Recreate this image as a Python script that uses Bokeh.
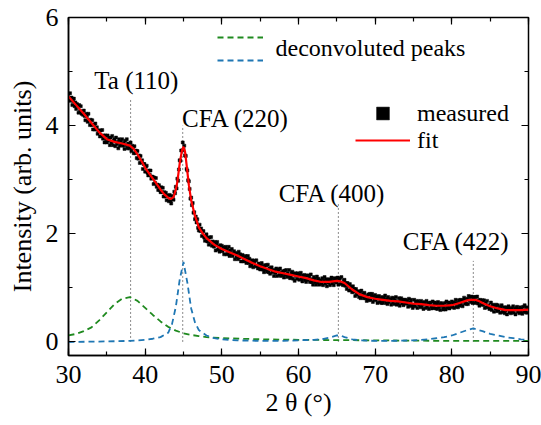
import numpy as np
from bokeh.plotting import figure
from bokeh.models import (Range1d, LinearAxis, SingleIntervalTicker, Legend,
                          LegendItem, Label, CustomLabelingPolicy)
from bokeh.embed import file_html
from bokeh.resources import INLINE

# ---------------- data ----------------
scan_start, scan_step = 30.0, 0.1   # 2-theta grid of the measurement
measured = [
    4.59, 4.46, 4.60, 4.47, 4.52, 4.38, 4.45, 4.50, 4.36, 4.43,
    4.31, 4.40, 4.37, 4.24, 4.38, 4.27, 4.36, 4.22, 4.26, 4.20,
    4.28, 4.18, 4.10, 4.22, 4.18, 4.07, 4.22, 4.09, 4.01, 4.11,
    4.01, 4.10, 3.93, 4.02, 3.93, 4.04, 3.93, 3.97, 3.85, 3.91,
    3.91, 3.80, 3.91, 3.81, 3.92, 3.76, 3.82, 3.69, 3.82, 3.75,
    3.69, 3.82, 3.72, 3.77, 3.64, 3.78, 3.68, 3.81, 3.64, 3.72,
    3.75, 3.62, 3.78, 3.66, 3.70, 3.58, 3.75, 3.63, 3.71, 3.65,
    3.75, 3.63, 3.68, 3.57, 3.72, 3.64, 3.75, 3.58, 3.67, 3.58,
    3.60, 3.69, 3.53, 3.63, 3.58, 3.49, 3.62, 3.49, 3.54, 3.40,
    3.53, 3.39, 3.45, 3.31, 3.44, 3.32, 3.36, 3.20, 3.29, 3.29,
    3.15, 3.24, 3.26, 3.13, 3.08, 3.17, 3.09, 3.17, 3.02, 3.06,
    3.05, 2.92, 3.04, 2.94, 3.03, 2.87, 2.91, 2.81, 2.90, 2.81,
    2.77, 2.86, 2.77, 2.85, 2.69, 2.77, 2.69, 2.76, 2.62, 2.70,
    2.71, 2.60, 2.72, 2.61, 2.56, 2.70, 2.68, 2.63, 2.78, 2.75,
    2.87, 2.84, 3.02, 2.98, 3.19, 3.36, 3.35, 3.54, 3.54, 3.69,
    3.56, 3.63, 3.45, 3.44, 3.20, 3.17, 2.99, 2.97, 2.83, 2.65,
    2.67, 2.53, 2.57, 2.39, 2.40, 2.27, 2.32, 2.21, 2.27, 2.11,
    2.06, 2.17, 2.05, 2.10, 1.96, 2.04, 2.05, 1.93, 1.87, 1.95,
    1.99, 1.86, 1.93, 1.80, 1.93, 1.85, 1.94, 1.78, 1.86, 1.78,
    1.76, 1.85, 1.69, 1.81, 1.85, 1.71, 1.77, 1.67, 1.79, 1.71,
    1.78, 1.68, 1.75, 1.62, 1.72, 1.76, 1.62, 1.71, 1.63, 1.76,
    1.59, 1.69, 1.63, 1.72, 1.59, 1.64, 1.68, 1.53, 1.64, 1.57,
    1.64, 1.53, 1.67, 1.56, 1.62, 1.49, 1.59, 1.61, 1.49, 1.55,
    1.50, 1.59, 1.46, 1.53, 1.59, 1.46, 1.54, 1.40, 1.48, 1.42,
    1.51, 1.38, 1.47, 1.50, 1.40, 1.51, 1.40, 1.36, 1.45, 1.40,
    1.34, 1.42, 1.46, 1.34, 1.39, 1.29, 1.42, 1.34, 1.42, 1.30,
    1.43, 1.29, 1.36, 1.26, 1.37, 1.38, 1.29, 1.32, 1.22, 1.33,
    1.28, 1.36, 1.22, 1.32, 1.34, 1.24, 1.36, 1.22, 1.29, 1.24,
    1.31, 1.19, 1.32, 1.25, 1.33, 1.20, 1.27, 1.22, 1.33, 1.18,
    1.19, 1.27, 1.30, 1.17, 1.25, 1.13, 1.27, 1.23, 1.17, 1.27,
    1.23, 1.15, 1.25, 1.28, 1.17, 1.12, 1.23, 1.18, 1.24, 1.14,
    1.11, 1.23, 1.15, 1.23, 1.19, 1.11, 1.25, 1.11, 1.16, 1.06,
    1.20, 1.11, 1.17, 1.06, 1.21, 1.10, 1.17, 1.06, 1.14, 1.12,
    1.07, 1.18, 1.05, 1.13, 1.20, 1.08, 1.16, 1.03, 1.15, 1.10,
    1.16, 1.05, 1.14, 1.19, 1.08, 1.13, 1.05, 1.18, 1.11, 1.17,
    1.10, 1.19, 1.06, 1.15, 1.18, 1.07, 1.20, 1.09, 1.05, 1.13,
    1.15, 1.04, 1.09, 0.98, 1.09, 1.04, 0.95, 1.07, 0.96, 1.02,
    0.92, 1.03, 0.93, 0.98, 0.85, 0.98, 0.88, 0.92, 0.94, 0.83,
    0.92, 0.81, 0.95, 0.85, 0.89, 0.81, 0.91, 0.81, 0.85, 0.76,
    0.81, 0.88, 0.77, 0.89, 0.78, 0.84, 0.89, 0.74, 0.84, 0.79,
    0.87, 0.77, 0.84, 0.72, 0.81, 0.85, 0.74, 0.80, 0.72, 0.83,
    0.72, 0.82, 0.77, 0.86, 0.72, 0.80, 0.70, 0.83, 0.74, 0.78,
    0.79, 0.69, 0.82, 0.73, 0.81, 0.70, 0.77, 0.83, 0.69, 0.74,
    0.71, 0.81, 0.67, 0.76, 0.81, 0.71, 0.78, 0.68, 0.78, 0.71,
    0.78, 0.71, 0.76, 0.65, 0.80, 0.67, 0.73, 0.78, 0.67, 0.63,
    0.68, 0.78, 0.66, 0.73, 0.75, 0.63, 0.76, 0.69, 0.73, 0.64,
    0.76, 0.66, 0.72, 0.61, 0.74, 0.70, 0.63, 0.76, 0.65, 0.72,
    0.61, 0.71, 0.73, 0.66, 0.62, 0.75, 0.63, 0.69, 0.73, 0.62,
    0.71, 0.61, 0.74, 0.64, 0.69, 0.59, 0.72, 0.66, 0.70, 0.60,
    0.65, 0.72, 0.60, 0.75, 0.63, 0.68, 0.73, 0.62, 0.71, 0.65,
    0.75, 0.65, 0.73, 0.63, 0.72, 0.78, 0.65, 0.72, 0.64, 0.77,
    0.67, 0.78, 0.71, 0.77, 0.66, 0.77, 0.82, 0.71, 0.78, 0.70,
    0.80, 0.70, 0.85, 0.77, 0.83, 0.74, 0.84, 0.72, 0.81, 0.83,
    0.72, 0.83, 0.74, 0.84, 0.71, 0.77, 0.67, 0.78, 0.74, 0.69,
    0.77, 0.69, 0.77, 0.63, 0.72, 0.64, 0.76, 0.65, 0.68, 0.61,
    0.62, 0.73, 0.59, 0.67, 0.69, 0.56, 0.67, 0.62, 0.69, 0.57,
    0.68, 0.59, 0.63, 0.54, 0.65, 0.68, 0.55, 0.58, 0.64, 0.53,
    0.58, 0.64, 0.51, 0.62, 0.66, 0.55, 0.61, 0.53, 0.63, 0.56,
    0.66, 0.54, 0.61, 0.51, 0.63, 0.65, 0.56, 0.60, 0.53, 0.64,
    0.55, 0.62, 0.52, 0.65, 0.57, 0.68, 0.55, 0.64, 0.54, 0.62,
    0.63,
]
two_theta = np.round(scan_start + scan_step * np.arange(len(measured)), 2)

fit_x = [30, 31, 32, 33, 34, 35, 36, 37, 38, 38.5, 39, 39.5, 40, 41, 42, 42.5,
         43, 43.3, 43.7, 44, 44.2, 44.5, 44.8, 45, 45.2, 45.4, 45.7, 46, 46.5,
         47, 47.5, 48, 49, 50, 51, 52, 53, 54, 55, 56, 57, 58, 59, 60, 61, 62,
         63, 64, 65, 65.5, 66, 66.5, 67, 68, 69, 70, 71, 72, 73, 74, 75, 76, 77,
         78, 79, 80, 81, 82, 82.5, 83, 83.5, 84, 85, 86, 87, 88, 89, 90]
fit_y = [4.54, 4.38, 4.22, 4.05, 3.88, 3.75, 3.70, 3.67, 3.63, 3.57, 3.47, 3.35,
         3.22, 3.02, 2.82, 2.73, 2.67, 2.64, 2.68, 2.82, 2.96, 3.30, 3.54, 3.61,
         3.52, 3.28, 2.90, 2.62, 2.33, 2.12, 2.01, 1.92, 1.80, 1.72, 1.66, 1.60,
         1.53, 1.46, 1.40, 1.35, 1.30, 1.27, 1.24, 1.21, 1.18, 1.14, 1.11, 1.11,
         1.13, 1.12, 1.09, 1.03, 0.97, 0.88, 0.83, 0.80, 0.78, 0.76, 0.75, 0.73,
         0.71, 0.70, 0.68, 0.67, 0.67, 0.68, 0.72, 0.77, 0.78, 0.78, 0.76, 0.72,
         0.66, 0.62, 0.59, 0.59, 0.59, 0.60]

ta_x = [30, 31, 32, 33, 34, 35, 36, 37, 38, 39, 40, 41, 42, 43, 44, 45, 46, 47,
        48, 50, 55, 60, 70, 80, 90]
ta_y = [0.12, 0.15, 0.20, 0.27, 0.40, 0.55, 0.70, 0.80, 0.83, 0.76, 0.63, 0.50,
        0.38, 0.28, 0.21, 0.16, 0.13, 0.11, 0.09, 0.07, 0.05, 0.04, 0.03, 0.02,
        0.02]

cfa_x = [30, 35, 38, 40, 41, 42, 43, 43.5, 44, 44.5, 45, 45.5, 46, 46.5, 47, 48,
         49, 50, 52, 55, 58, 60, 62, 63, 64, 65, 65.5, 66, 67, 68, 70, 72, 75, 77,
         78, 79, 80, 81, 82, 82.8, 84, 85, 86, 87, 88, 89, 90]
cfa_y = [0.00, 0.01, 0.02, 0.04, 0.06, 0.09, 0.17, 0.33, 0.65, 1.15, 1.48, 1.10,
         0.62, 0.36, 0.22, 0.12, 0.07, 0.05, 0.03, 0.02, 0.02, 0.03, 0.04, 0.05,
         0.08, 0.12, 0.12, 0.09, 0.05, 0.03, 0.02, 0.02, 0.03, 0.05, 0.07, 0.09,
         0.12, 0.17, 0.22, 0.25, 0.20, 0.15, 0.12, 0.09, 0.07, 0.05, 0.04]

peak_pos = [38.1, 44.9, 65.2, 82.8]
peak_line_top = [4.50, 4.00, 2.55, 1.50]
peak_names = ["Ta (110)", "CFA (220)", "CFA (400)", "CFA (422)"]
peak_label_x = [38.85, 51.8, 64.4, 80.6]
peak_label_y = [4.84, 4.14, 2.74, 1.85]

# ---------------- figure ----------------
FONT = "Liberation Serif"
p = figure(width=541, height=425, frame_width=460, frame_height=338,
           min_border_left=68, min_border_right=13, min_border_top=17,
           min_border_bottom=70, x_range=Range1d(30, 90),
           y_range=Range1d(-0.25, 6), output_backend="svg",
           toolbar_location=None, x_axis_label="2 θ (°)",
           y_axis_label="Intensity (arb. units)")
p.xgrid.visible = False
p.ygrid.visible = False
p.outline_line_color = "black"
p.outline_line_width = 1.5
p.background_fill_color = "white"
p.border_fill_color = "white"

xt = SingleIntervalTicker(interval=10, num_minor_ticks=2)
yt = SingleIntervalTicker(interval=2, num_minor_ticks=2)
p.xaxis.ticker = xt
p.yaxis.ticker = yt
for ax in (p.xaxis[0], p.yaxis[0]):
    ax.major_tick_in = 7
    ax.major_tick_out = 0
    ax.minor_tick_in = 4
    ax.minor_tick_out = 0
    ax.axis_line_width = 1.5
    ax.major_tick_line_width = 1.2
    ax.minor_tick_line_width = 1.2
    ax.major_label_text_font = FONT
    ax.major_label_text_font_size = "26px"
    ax.major_label_text_color = "black"
    ax.major_label_standoff = 10
    ax.axis_label_text_font = FONT
    ax.axis_label_text_font_size = "26px"
    ax.axis_label_text_font_style = "normal"
    ax.axis_label_text_color = "black"
p.xaxis.axis_label_standoff = 2
p.yaxis.axis_label_standoff = 6

# mirrored tick marks on top and right (no labels)
no_labels = CustomLabelingPolicy(code="""
    for (const i of indices) { indices.unset(i) }
    return indices
""")
top_ax = LinearAxis(ticker=SingleIntervalTicker(interval=10, num_minor_ticks=2))
right_ax = LinearAxis(ticker=SingleIntervalTicker(interval=2, num_minor_ticks=2))
for ax in (top_ax, right_ax):
    ax.major_tick_in = 7
    ax.major_tick_out = 0
    ax.minor_tick_in = 4
    ax.minor_tick_out = 0
    ax.major_tick_line_width = 1.2
    ax.minor_tick_line_width = 1.2
    ax.axis_line_color = None
    ax.major_label_text_font_size = "0px"
    ax.major_label_standoff = 0
    ax.major_label_policy = no_labels
p.add_layout(top_ax, "above")
p.add_layout(right_ax, "right")

# vertical dotted peak markers
p.segment(x0=peak_pos, y0=[0] * len(peak_pos), x1=peak_pos, y1=peak_line_top,
          line_color="#8a8a8a", line_width=1, line_dash="2 2")

# deconvoluted peaks
r_ta = p.line(ta_x, ta_y, line_color="#1f8a1f", line_width=1.8, line_dash="6 4")
r_cfa = p.line(cfa_x, cfa_y, line_color="#1f77b4", line_width=1.8, line_dash="6 4")

# measured and fit
r_meas = p.scatter(two_theta, measured, marker="square", size=3,
                   fill_color="black", line_color="black", line_width=0.5)
r_fit = p.line(fit_x, fit_y, line_color="#ff0000", line_width=2.2)

# peak labels
for name, lx, ly in zip(peak_names, peak_label_x, peak_label_y):
    p.add_layout(Label(x=lx, y=ly, text=name, text_font=FONT,
                       text_font_size="25px", text_align="center",
                       text_baseline="alphabetic", text_color="black"))

# legend: two dashed samples sharing one text
leg_peaks = Legend(items=[LegendItem(label=" ", renderers=[r_ta]),
                          LegendItem(label=" ", renderers=[r_cfa])],
                   location=(149, 290), glyph_width=46, glyph_height=10,
                   spacing=13, padding=0, margin=0, label_width=0,
                   label_height=0, label_standoff=0,
                   label_text_font_size="1px", label_text_alpha=0,
                   border_line_color=None, background_fill_alpha=0)
p.add_layout(leg_peaks)
p.add_layout(Label(x=57.0, y=5.43, text="deconvoluted peaks", text_font=FONT,
                   text_font_size="24px", text_align="left",
                   text_baseline="middle", text_color="black"))

# legend: measured / fit (one single-row legend each)
leg_style = dict(glyph_width=55, glyph_height=32, spacing=0, padding=0,
                 margin=0, label_width=0, label_height=0, label_standoff=7,
                 label_text_font=FONT, label_text_font_size="24px",
                 label_text_color="black", border_line_color=None,
                 background_fill_alpha=0)
leg_m = Legend(items=[LegendItem(label="measured", renderers=[r_meas])],
               location=(287, 226), **leg_style)
leg_f = Legend(items=[LegendItem(label="fit", renderers=[r_fit])],
               location=(287, 199), **leg_style)
p.add_layout(leg_m)
p.add_layout(leg_f)

open("out.html", "w").write(file_html(p, INLINE))
